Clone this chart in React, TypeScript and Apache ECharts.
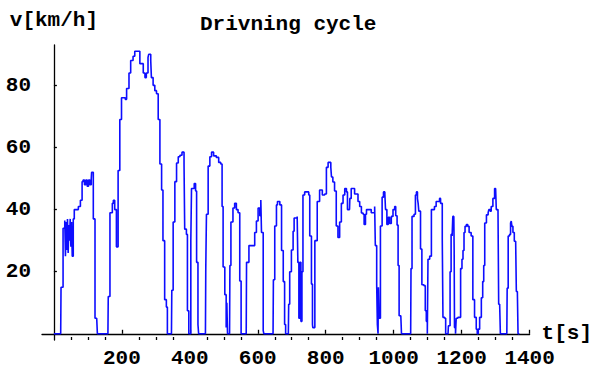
import React, { useEffect, useRef } from "react";
import * as echarts from "echarts";

// Drive-cycle trace: time [s] and vehicle speed [km/h]; each speed holds until the next time.
const times = [
  0, 20, 21, 27, 32, 34, 36, 38, 40, 42, 44, 46, 48, 50, 52, 54, 57, 60, 72, 78, 83, 86,
  90, 94, 98, 102, 106, 110, 111, 116, 121, 126, 128,
  159, 160, 165, 172, 175, 179, 184, 189, 194, 199, 210, 214, 221, 226, 233, 238, 248, 253,
  263, 268, 272, 277, 279, 285, 287, 292, 297, 302, 307, 312, 317, 321, 326, 331, 334,
  346, 347, 351, 356, 361, 366, 371, 377, 383, 385, 390, 393, 397, 400, 403, 405, 413, 417,
  420, 424, 426,
  446, 447, 449, 454, 459, 464, 470, 478, 485, 491, 495, 498, 503, 507, 509, 511,
  517, 518, 521, 527, 532, 537, 542, 547, 551,
  566, 567, 574, 591, 596, 601, 606, 609, 611, 616, 618,
  645, 646, 650, 655, 658, 665, 670, 675, 679, 682,
  690, 691, 694, 699, 704, 707, 716, 718, 721, 724, 727, 730, 733, 738, 750, 753, 758, 761,
  762, 768, 775, 782, 790, 797, 802, 807, 815, 817, 821, 826, 831, 836, 841, 846, 851, 856,
  861, 864, 870, 871, 875, 885, 895, 900, 905, 910, 913, 917, 920, 934, 944, 946, 950, 952,
  954, 955, 957, 961, 966, 970, 974, 976, 980, 984, 988, 993, 998, 1003, 1006, 1010, 1013,
  1016, 1021, 1023,
  1050, 1051, 1054, 1060, 1064, 1067, 1070, 1072, 1074, 1079, 1083, 1089, 1093, 1096, 1099,
  1101, 1106, 1111, 1120, 1125, 1135, 1138, 1143, 1145, 1150, 1153,
  1160, 1161, 1166, 1169, 1172, 1174, 1177, 1178, 1179, 1182, 1184, 1189, 1197, 1201, 1204,
  1207, 1210, 1214, 1218, 1222, 1228, 1233, 1238, 1243, 1246, 1249, 1253, 1258, 1262, 1265,
  1268, 1273, 1278, 1280, 1284, 1287, 1292, 1297, 1300, 1302, 1307, 1309, 1312, 1314,
  1333, 1334, 1337, 1341, 1344, 1346, 1348, 1351, 1355, 1359, 1361, 1364, 1366, 1370,
];

const speeds = [
  0, 0, 15, 34, 36.5, 25, 36, 27, 37, 26, 35, 30, 37, 28, 36, 25, 37, 40, 41, 43, 49, 49.5,
  48, 49.5, 47.5, 49.5, 48, 50, 52, 37, 5, 5, 0,
  0, 12, 39, 42, 43, 40, 28, 52.6, 69, 76, 75.5, 79, 84, 88, 89.4, 91, 91, 87,
  84, 82.5, 84, 89, 90, 88, 82.5, 80, 78.3, 77.3, 69, 54.7, 46.3, 30, 11, 8.6, 0,
  0, 14, 36, 49, 55, 57, 57.5, 58.5, 54.7, 33.7, 32, 7.4, 0, 0, 30, 46.8, 48.4, 46,
  23, 3, 0,
  0, 21, 38.5, 54, 57, 58.5, 57.3, 56.8, 55.2, 54.7, 41, 21.5, 12.6, 2, 10, 0,
  0, 22, 36, 40.5, 42, 40, 39, 17, 0,
  0, 23, 28.4, 32.6, 36.3, 40.5, 38, 43.1, 32.6, 1, 0,
  0, 17.4, 34.7, 41.5, 42.6, 41.5, 26.8, 16.8, 3, 0,
  0, 9.5, 20, 27, 33, 37.3, 37.8, 23, 5, 23, 4, 20, 44.7, 45.7, 44.7, 31.5, 16, 3,
  2, 30, 42.6, 46.3, 44.7, 45, 53.6, 55.2, 53.6, 50.5, 48.9, 46, 34.7, 31, 36, 42, 44.7, 46.8,
  45.7, 40, 40, 43.6, 46.8, 45, 42.6, 41, 38.9, 38.5, 35.2, 38.5, 40, 39, 41, 28.4, 15.8, 3,
  0, 15, 5, 34.7, 44, 45.7, 45, 40, 35.2, 37.5, 35.5, 37.8, 40, 41, 38, 35, 22,
  5.8, 5.8, 0,
  0, 21, 37.8, 38.5, 44.7, 45.7, 43.5, 42, 39.5, 27.3, 15.8, 15.5, 7.4, 4, 0,
  24, 25, 40, 41, 42.6, 43.6, 42, 30.6, 5.3, 5, 0,
  0, 2.6, 20, 32, 31.5, 37.8, 37.8, 27, 2, 0, 5, 5.3, 21, 24, 26.8,
  32.6, 34.6, 35.2, 34.6, 32.6, 31.5, 11, 5.3, 1.5, 0, 1.5, 5.3, 11.6, 16.8, 22,
  35.7, 38.3, 39, 40, 39.5, 41, 43.6, 46.8, 46.8, 40, 40, 9.5, 9, 0,
  0, 14.7, 31.5, 32, 35.7, 36.3, 34.6, 32.6, 29.8, 29.8, 13.6, 13.6, 0, 0,
];

const xTickLabels = [200, 400, 600, 800, 1000, 1200, 1400];
const xMinorTicks = [
  50, 100, 150, 250, 300, 350, 450, 500, 550, 650, 700, 750, 850, 900, 950, 1050, 1100, 1150,
  1250, 1300, 1350,
];
const yTickLabels = [20, 40, 60, 80];

const FONT = "Liberation Mono";

export default function App() {
  const ref = useRef<HTMLDivElement>(null);

  useEffect(() => {
    if (!ref.current) return;
    const chart = echarts.init(ref.current, undefined, { renderer: "svg" });
    const data = times.map((t, i) => [t, speeds[i]]);
    const labelStyle = {
      color: "#000",
      fontFamily: FONT,
      fontWeight: "bold" as const,
      fontSize: 21,
    };
    const plain = (v: number) => String(v);

    chart.setOption({
      animation: false,
      backgroundColor: "#fff",
      title: {
        text: "Drivning cycle",
        left: 195,
        top: 9,
        textStyle: { ...labelStyle },
      },
      grid: { left: 42, right: 65, top: 45, bottom: 23 },
      xAxis: [
        {
          type: "value",
          min: -35,
          max: 1400,
          name: "t[s]",
          nameLocation: "end",
          nameGap: 12,
          nameTextStyle: { ...labelStyle, verticalAlign: "middle", padding: [26, 0, 0, 0] },
          splitLine: { show: false },
          axisLine: { onZero: true, lineStyle: { color: "#000", width: 1.3 } },
          axisTick: {
            inside: true,
            length: 4,
            customValues: xTickLabels,
            lineStyle: { color: "#000", width: 1.3 },
          },
          axisLabel: { ...labelStyle, margin: 8, customValues: xTickLabels, formatter: plain },
        },
        {
          type: "value",
          position: "bottom",
          min: -35,
          max: 1400,
          splitLine: { show: false },
          axisLine: { show: false, onZero: true },
          axisTick: {
            inside: true,
            length: 3,
            customValues: xMinorTicks,
            lineStyle: { color: "#000", width: 1.3 },
          },
          axisLabel: { show: false },
        },
      ],
      yAxis: {
        type: "value",
        min: -2,
        max: 93,
        name: "v[km/h]",
        nameLocation: "end",
        nameGap: 14,
        nameTextStyle: { ...labelStyle, align: "center" },
        splitLine: { show: false },
        axisLine: { onZero: true, lineStyle: { color: "#000", width: 1.3 } },
        axisTick: {
          inside: true,
          length: 3,
          customValues: yTickLabels,
          lineStyle: { color: "#000", width: 1.3 },
        },
        axisLabel: { ...labelStyle, margin: 11, customValues: yTickLabels, formatter: plain },
      },
      series: [
        {
          type: "line",
          xAxisIndex: 0,
          data,
          step: "end",
          showSymbol: false,
          symbol: "none",
          lineStyle: { color: "#0d0dff", width: 1.6 },
        },
      ],
    });

    return () => chart.dispose();
  }, []);

  return (
    <div
      ref={ref}
      style={{ position: "absolute", left: 0, top: 0, width: 595, height: 369 }}
    />
  );
}
